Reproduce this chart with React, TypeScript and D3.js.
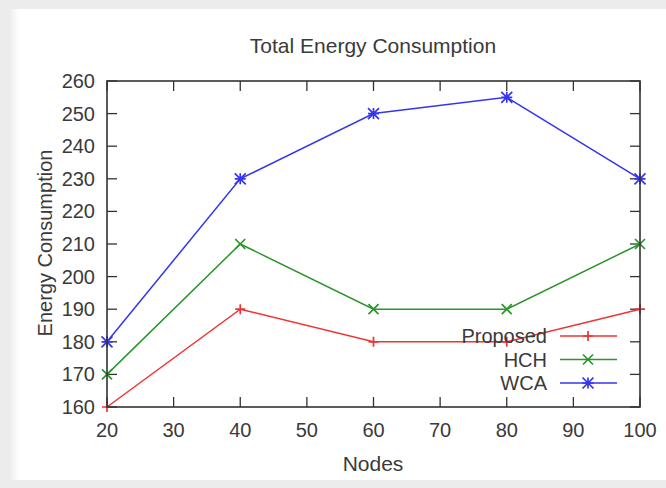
import React from "react";
import * as d3 from "d3";

const nodes = [20, 40, 60, 80, 100];
const proposed = [160, 190, 180, 180, 190];
const hch = [170, 210, 190, 190, 210];
const wca = [180, 230, 250, 255, 230];
const xTicks = [20, 30, 40, 50, 60, 70, 80, 90, 100];
const yTicks = [160, 170, 180, 190, 200, 210, 220, 230, 240, 250, 260];
const seriesNames = ["Proposed", "HCH", "WCA"];

const W = 666, H = 488;
const L = 107, R = 640, T = 81, B = 407;
const FONT = "'Liberation Sans', Arial, sans-serif";

type Marker = "plus" | "cross" | "star";

function markerPath(type: Marker, x: number, y: number, s: number) {
  const p = `M${x - s},${y}L${x + s},${y}M${x},${y - s}L${x},${y + s}`;
  const c = `M${x - s},${y - s}L${x + s},${y + s}M${x - s},${y + s}L${x + s},${y - s}`;
  if (type === "plus") return p;
  if (type === "cross") return c;
  return p + c;
}

export default function App() {
  const x = d3.scaleLinear().domain([20, 100]).range([L, R]);
  const y = d3.scaleLinear().domain([160, 260]).range([B, T]);
  const line = d3
    .line<number>()
    .x((_, i) => x(nodes[i]))
    .y((d) => y(d));

  const series = [
    { name: seriesNames[0], data: proposed, color: "#ee3333", marker: "plus" as Marker, ms: 5 },
    { name: seriesNames[1], data: hch, color: "#2a952a", marker: "cross" as Marker, ms: 5 },
    { name: seriesNames[2], data: wca, color: "#3535ee", marker: "star" as Marker, ms: 5.5 },
  ];

  const tickLen = 10;
  const axisColor = "#333";
  const textColor = "#3a3a3a";

  return (
    <svg
      width={W}
      height={H}
      style={{ position: "absolute", left: 0, top: 0 }}
      fontFamily={FONT}
    >
      <defs>
        <linearGradient id="lshade" x1="0" x2="1" y1="0" y2="0">
          <stop offset="0" stopColor="#e6e6e6" />
          <stop offset="1" stopColor="#ffffff" />
        </linearGradient>
      </defs>
      <rect x={0} y={0} width={W} height={H} fill="#ececec" />
      <rect x={11} y={9} width={W - 11} height={480 - 9} fill="#ffffff" />
      <rect x={11} y={9} width={8} height={480 - 9} fill="url(#lshade)" opacity={0.6} />

      {/* title */}
      <text x={373} y={53} textAnchor="middle" fontSize={21} fill={textColor}>
        Total Energy Consumption
      </text>

      {/* ticks */}
      {xTicks.map((t) => (
        <g key={"x" + t}>
          <line x1={x(t)} x2={x(t)} y1={B} y2={B - tickLen} stroke={axisColor} strokeWidth={1.3} />
          <line x1={x(t)} x2={x(t)} y1={T} y2={T + tickLen} stroke={axisColor} strokeWidth={1.3} />
          <text x={x(t)} y={437} textAnchor="middle" fontSize={20} fill={textColor}>
            {t}
          </text>
        </g>
      ))}
      {yTicks.map((t) => (
        <g key={"y" + t}>
          <line x1={L} x2={L + tickLen} y1={y(t)} y2={y(t)} stroke={axisColor} strokeWidth={1.3} />
          <line x1={R} x2={R - tickLen} y1={y(t)} y2={y(t)} stroke={axisColor} strokeWidth={1.3} />
          <text x={95} y={y(t) + 7} textAnchor="end" fontSize={20} fill={textColor}>
            {t}
          </text>
        </g>
      ))}

      {/* axis labels */}
      <text x={373} y={471} textAnchor="middle" fontSize={21} fill={textColor}>
        Nodes
      </text>
      <text
        transform={`translate(52,243) rotate(-90)`}
        textAnchor="middle"
        fontSize={20}
        fill={textColor}
      >
        Energy Consumption
      </text>

      {/* series */}
      {series.map((s) => (
        <g key={s.name}>
          <path d={line(s.data) || ""} fill="none" stroke={s.color} strokeWidth={1.5} />
          {s.data.map((v, i) => (
            <path
              key={i}
              d={markerPath(s.marker, x(nodes[i]), y(v), s.ms)}
              stroke={s.color}
              strokeWidth={1.7}
              fill="none"
            />
          ))}
        </g>
      ))}

      {/* legend */}
      {series.map((s, i) => {
        const cy = 336 + i * 23.5;
        return (
          <g key={"lg" + s.name}>
            <text x={547} y={cy + 7} textAnchor="end" fontSize={20} fill={textColor}>
              {s.name}
            </text>
            <line x1={560} x2={617} y1={cy} y2={cy} stroke={s.color} strokeWidth={1.5} />
            <path d={markerPath(s.marker, 588, cy, s.ms)} stroke={s.color} strokeWidth={1.7} fill="none" />
          </g>
        );
      })}

      {/* frame */}
      <rect x={L} y={T} width={R - L} height={B - T} fill="none" stroke={axisColor} strokeWidth={1.6} />
    </svg>
  );
}
